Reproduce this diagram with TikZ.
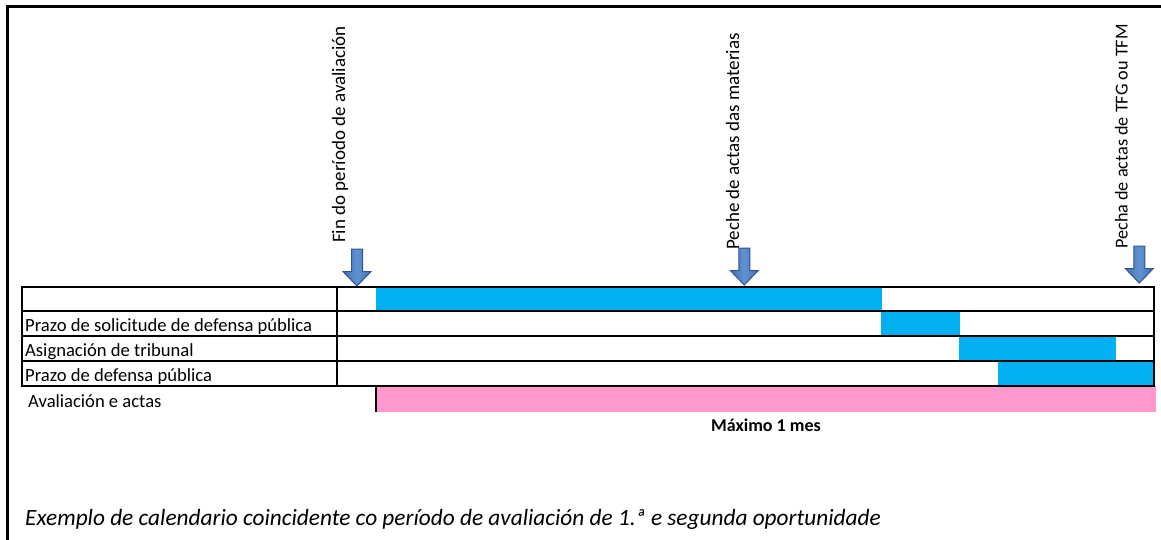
\documentclass[tikz,border=0pt]{standalone}
\usepackage{fontspec}
\setmainfont{Carlito}
\definecolor{barblue}{HTML}{00B0F0}
\definecolor{barpink}{HTML}{FF99CC}
\definecolor{arrowfill}{HTML}{4373B0}
\definecolor{arrowlight}{HTML}{5F92D2}
\definecolor{arrowline}{HTML}{2F5590}
\tikzset{
  frame/.style={line width=3pt, black},
  grid/.style={line width=2.4pt, black},
  bluebar/.style={fill=barblue},
  pinkbar/.style={fill=barpink},
  rowlabel/.style={anchor=base west, inner sep=0pt, font=\fontsize{18.6}{20}\selectfont},
  vlabel/.style={anchor=base west, inner sep=0pt, rotate=90, font=\fontsize{19}{21}\selectfont},
  downarrow/.pic={
    \shade[left color=arrowfill, right color=arrowfill, middle color=arrowlight, draw=arrowline, line width=1pt]
      (-5.5,0) -- (5.5,0) -- (5.5,22.5) -- (14,22.5) -- (0,37) -- (-14,22.5) -- (-5.5,22.5) -- cycle;
  }
}
\begin{document}
\begin{tikzpicture}[x=1pt,y=-1pt]
\useasboundingbox (0,0) rectangle (1161,540);
% outer frame
\draw[frame] (1162,7) -- (7,7) -- (7,542);
% bars
\fill[bluebar] (376,287) rectangle (882,311);
\fill[bluebar] (881,311) rectangle (960,336);
\fill[bluebar] (959,336) rectangle (1116,361);
\fill[bluebar] (998,361) rectangle (1154,386);
\fill[pinkbar] (376,386) rectangle (1156,412);
% table grid
\draw[grid] (22,287) rectangle (1154,386);
\draw[grid] (22,311) -- (1154,311);
\draw[grid] (22,336) -- (1154,336);
\draw[grid] (22,361) -- (1154,361);
\draw[grid] (337,287) -- (337,386);
\draw[line width=2pt] (376,386) -- (376,412);
% row labels
\node[rowlabel] (r2) at (25,331) {Prazo de solicitude de defensa pública};
\node[rowlabel] (r3) at (25,356) {Asignación de tribunal};
\node[rowlabel] (r4) at (25,381) {Prazo de defensa pública};
\node[rowlabel] (r5) at (28,407) {Avaliación e actas};
% arrows
\pic at (357,249) {downarrow};
\pic at (744.3,248) {downarrow};
\pic at (1139.3,246) {downarrow};
% vertical labels
\node[vlabel] (m1) at (345,243) {Fin do período de avaliación};
\node[vlabel] (m2) at (739,250) {Peche de actas das materias};
\node[vlabel, font=\fontsize{18.2}{20}\selectfont] (m3) at (1127.5,249) {Pecha de actas de TFG ou TFM};
% texts
\node[anchor=base, inner sep=0pt, font=\fontsize{18}{20}\selectfont\bfseries] (max) at (766,431) {Máximo 1 mes};
\node[anchor=base west, inner sep=0pt, font=\fontsize{23.3}{26}\selectfont\itshape] (cap) at (25,525) {Exemplo de calendario coincidente co período de avaliación de 1.ª e segunda oportunidade};
\end{tikzpicture}
\end{document}
